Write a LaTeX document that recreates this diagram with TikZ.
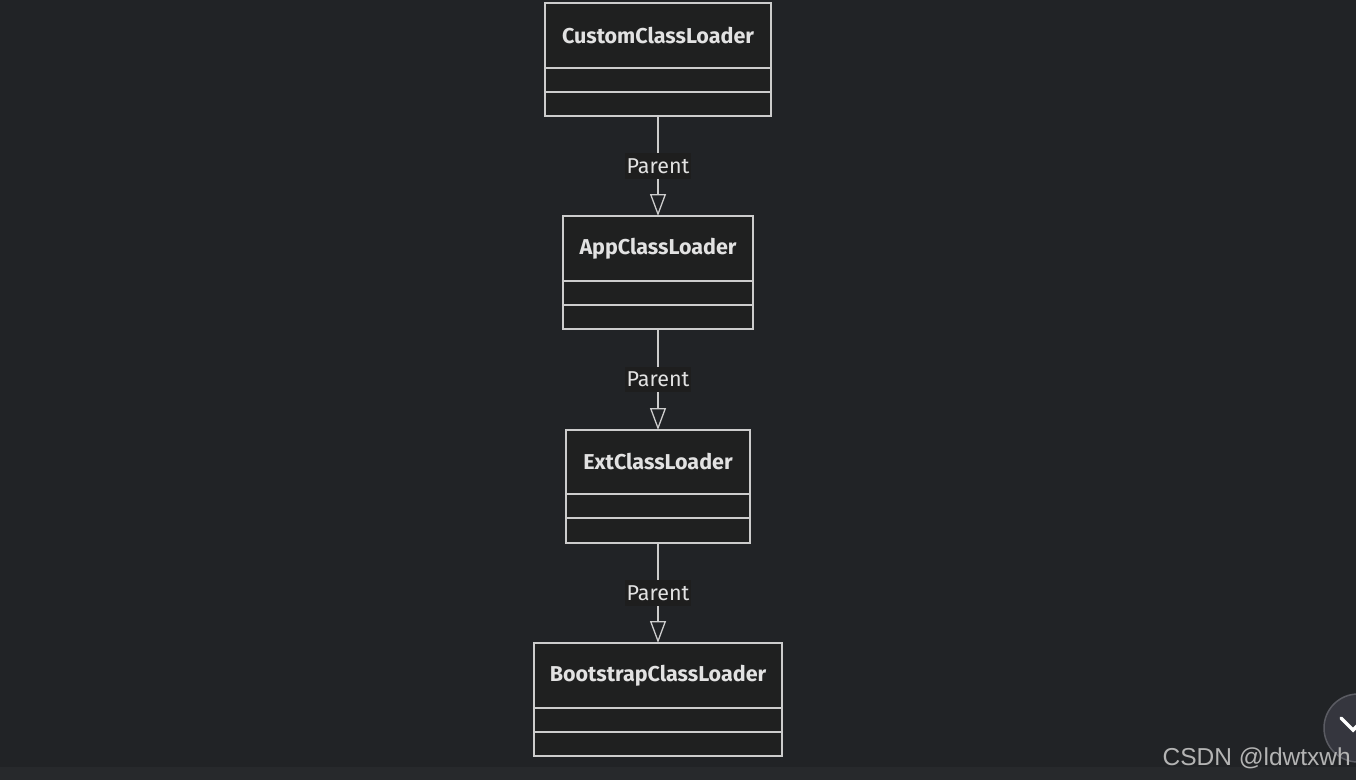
\documentclass[tikz,border=0pt]{standalone}
\usepackage{fontspec}
\setmainfont{Fira Sans}
\newfontfamily\wmfont{Liberation Sans}
\usetikzlibrary{arrows.meta}
\definecolor{bgc}{HTML}{212326}
\definecolor{boxc}{HTML}{1F2020}
\definecolor{linec}{HTML}{CCCCCC}
\definecolor{txtc}{HTML}{E2E2E2}
\definecolor{lblbg}{HTML}{1E1E1E}
\definecolor{stripc}{HTML}{27292C}
\definecolor{circc}{HTML}{35363E}
\definecolor{circb}{HTML}{5A5B62}
\definecolor{wmc}{HTML}{B4B4B4}
\begin{document}
\begin{tikzpicture}[x=1pt,y=-1pt,
  hdr/.style={draw=linec,fill=boxc,line width=1.5pt,minimum height=65pt,inner sep=0pt,outer sep=0pt,anchor=north,
    font=\fontsize{21.5}{24}\selectfont\bfseries,text=txtc},
  comp/.style={draw=linec,fill=boxc,line width=1.5pt,minimum height=24pt,inner sep=0pt,outer sep=0pt,anchor=north},
  conn/.style={draw=linec,line width=1.3pt,-{Triangle[open,width=16pt,length=22pt,line width=1.3pt]}},
  lbl/.style={fill=lblbg,text=txtc,font=\fontsize{21.5}{24}\selectfont,inner xsep=2pt,inner ysep=5pt}]
\useasboundingbox (0,0) rectangle (1356,780);
\fill[bgc] (0,0) rectangle (1356,780);
\fill[stripc] (0,767) rectangle (1356,780);
% box 1
\node[hdr,minimum width=226pt] (h1) at (658,3) {CustomClassLoader};
\node[comp,minimum width=226pt] (a1) at (h1.south) {};
\node[comp,minimum width=226pt] (b1) at (a1.south) {};
% box 2
\node[hdr,minimum width=190pt] (h2) at (658,216) {AppClassLoader};
\node[comp,minimum width=190pt] (a2) at (h2.south) {};
\node[comp,minimum width=190pt] (b2) at (a2.south) {};
% box 3
\node[hdr,minimum width=184pt,minimum height=64pt] (h3) at (658,430) {ExtClassLoader};
\node[comp,minimum width=184pt] (a3) at (h3.south) {};
\node[comp,minimum width=184pt,minimum height=25pt] (b3) at (a3.south) {};
% box 4
\node[hdr,minimum width=248pt] (h4) at (658,643) {BootstrapClassLoader};
\node[comp,minimum width=248pt] (a4) at (h4.south) {};
\node[comp,minimum width=248pt] (b4) at (a4.south) {};
% connectors
\draw[conn] (b1.south) -- node[lbl] (l1) {Parent} (h2.north);
\draw[conn] (b2.south) -- node[lbl] (l2) {Parent} (h3.north);
\draw[conn] (b3.south) -- node[lbl] (l3) {Parent} (h4.north);
% scroll button
\begin{scope}
\clip (0,0) rectangle (1356,780);
\node[circle,draw=circb,fill=circc,line width=1.5pt,minimum size=68pt,inner sep=0pt] (btn) at (1358,728) {};
\draw[white,line width=3.5pt,line cap=round] (1341,718) -- (1353,730) -- (1365,718);
\end{scope}
\node[anchor=base east,text=wmc,font=\wmfont\fontsize{24.5}{28}\selectfont,inner sep=0pt] (wm) at (1351,765) {CSDN @ldwtxwh};
\end{tikzpicture}
\end{document}
